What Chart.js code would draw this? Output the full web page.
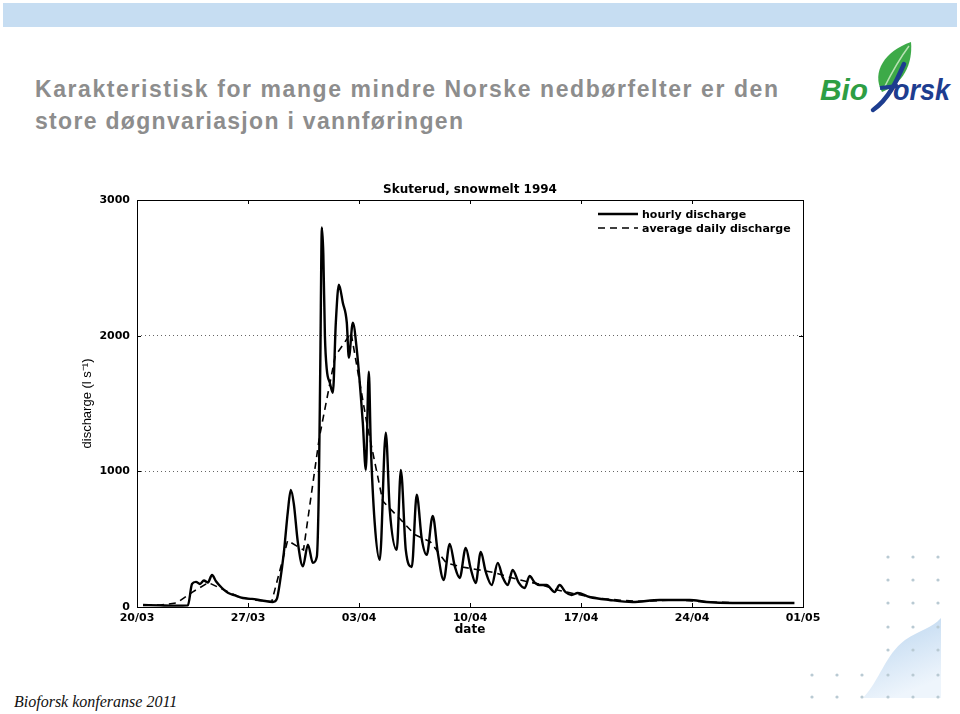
<!DOCTYPE html>
<html>
<head>
<meta charset="utf-8">
<script src="https://cdn.jsdelivr.net/npm/chart.js@4.4.1/dist/chart.umd.min.js"></script>
<style>
html, body { margin: 0; padding: 0; background: #fff; }
body { width: 960px; height: 714px; position: relative; overflow: hidden; }
#band { position: absolute; left: 3px; top: 3px; width: 954px; height: 24px; background: #c6ddf2; }
svg.layer { position: absolute; left: 0; top: 0; }
#chart-box { position: absolute; left: 50px; top: 170px; width: 780px; height: 480px; }
#foot { position: absolute; left: 14px; top: 693px; font: italic 16px "Liberation Serif", serif; color: #111; }
</style>
</head>
<body>
<div id="band"></div>

<svg class="layer" width="960" height="140">
  <text x="35" y="97" textLength="743" lengthAdjust="spacing" font-family="Liberation Sans, Arial, sans-serif" font-weight="bold" font-size="23" fill="#8d8d8d">Karakteristisk for mange mindre Norske nedbørfelter er den</text>
  <text x="35" y="129" textLength="428" lengthAdjust="spacing" font-family="Liberation Sans, Arial, sans-serif" font-weight="bold" font-size="23" fill="#8d8d8d">store døgnvariasjon i vannføringen</text>
  <!-- logo -->
  <path d="M882 92 C871 72 885 51 911 42 C913 64 903 84 882 92 Z" fill="#3daa48"/>
  <path d="M884 88 C892 72 900 58 909 46" stroke="#b9e2b4" stroke-width="1.5" fill="none"/>
  <path d="M904 64 C897 80 889 99 873 110" stroke="#1d3d8f" stroke-width="4.5" fill="none" stroke-linecap="round"/>
  <path d="M880 88 L898 86" stroke="#1d3d8f" stroke-width="4"/>
  <text x="820" y="100" textLength="48" lengthAdjust="spacingAndGlyphs" font-family="Liberation Sans, Arial, sans-serif" font-weight="bold" font-style="italic" font-size="30" fill="#2e9e44">Bio</text>
  <text x="893" y="100" textLength="57" lengthAdjust="spacingAndGlyphs" font-family="Liberation Sans, Arial, sans-serif" font-weight="bold" font-style="italic" font-size="30" fill="#1d3d8f">orsk</text>
</svg>

<svg class="layer" width="960" height="714">
  <defs>
    <linearGradient id="wave" x1="0" y1="0" x2="0.4" y2="1">
      <stop offset="0" stop-color="#b7d3ee"/>
      <stop offset="1" stop-color="#eef5fc"/>
    </linearGradient>
  </defs>
  <path d="M863 698 C880 680 885 655 905 640 C920 630 932 628 941 618 L941 698 Z" fill="url(#wave)"/>
  <g fill="#b9cad3">
    <circle cx="888" cy="557" r="1.6"/><circle cx="913" cy="557" r="1.6"/><circle cx="938" cy="557" r="1.6"/>
    <circle cx="888" cy="580" r="1.6"/><circle cx="913" cy="580" r="1.6"/><circle cx="938" cy="580" r="1.6"/>
    <circle cx="888" cy="603" r="1.6"/><circle cx="913" cy="603" r="1.6"/><circle cx="938" cy="603" r="1.6"/>
    <circle cx="888" cy="627" r="1.6"/><circle cx="913" cy="627" r="1.6"/><circle cx="938" cy="627" r="1.6"/>
    <circle cx="888" cy="650" r="1.6"/><circle cx="913" cy="650" r="1.6"/><circle cx="938" cy="650" r="1.6"/>
    <circle cx="812" cy="675" r="1.6"/><circle cx="837" cy="675" r="1.6"/><circle cx="862" cy="675" r="1.6"/>
    <circle cx="888" cy="675" r="1.6"/><circle cx="913" cy="675" r="1.6"/><circle cx="938" cy="675" r="1.6"/>
    <circle cx="812" cy="697" r="1.6"/><circle cx="837" cy="697" r="1.6"/><circle cx="862" cy="697" r="1.6"/>
    <circle cx="888" cy="697" r="1.6"/><circle cx="913" cy="697" r="1.6"/><circle cx="938" cy="697" r="1.6"/>
  </g>
</svg>

<div id="chart-box"><canvas id="chart"></canvas></div>
<div id="foot">Bioforsk konferanse 2011</div>

<script>
// tick labels
const xTickLabels = ['20/03', '27/03', '03/04', '10/04', '17/04', '24/04', '01/05'];
const yTickValues = [0, 1000, 2000, 3000];

// hourly discharge, days after 20/03 00:00 (l/s)
const hourlyDays = [0.38, 1.45, 2.39, 3.21, 3.47, 3.72, 3.97, 4.22, 4.47, 4.73, 4.98, 5.36, 5.73, 6.18, 6.68, 7.25, 7.88, 8.57,
    8.82, 9.01, 9.26, 9.51, 9.70, 9.89, 10.14, 10.46, 10.78, 11.09, 11.34, 11.47, 11.56, 11.66, 11.75, 11.85, 11.97,
    12.16, 12.35, 12.54, 12.73, 12.98, 13.23, 13.36, 13.61, 13.86, 14.24, 14.43, 14.62, 14.74, 14.99, 15.31, 15.69,
    15.94, 16.38, 16.64, 16.95, 17.33, 17.64, 17.96, 18.27, 18.65, 18.97, 19.34, 19.72, 20.04, 20.35, 20.73, 21.05,
    21.36, 21.68, 21.99, 22.37, 22.75, 23.06, 23.38, 23.69, 24.07, 24.45, 24.76, 25.08, 25.39, 25.83, 26.34, 26.65,
    27.03, 27.41, 27.79, 28.54, 29.80, 31.25, 32.96, 34.85, 35.92, 37.56, 39.70, 41.46];
const hourlyFlow = [15, 12, 10, 12, 170, 185, 170, 195, 180, 236, 190, 140, 105, 85, 66, 60, 48, 37,
    60, 180, 400, 700, 863, 760, 480, 300, 460, 325, 370, 900, 1800, 2797, 2600, 2000, 1749,
    1653, 1579, 2100, 2376, 2243, 2096, 1838, 2096, 1897, 1358, 1011, 1734, 1210, 620, 347, 1284,
    716, 421, 1011, 421, 295, 827, 500, 384, 672, 400, 199, 465, 300, 214, 435, 280,
    177, 406, 260, 162, 325, 220, 162, 273, 180, 140, 229, 180, 162, 162, 111, 162,
    110, 89, 103, 74, 52, 37, 52, 52, 37, 30, 30, 30];

// average daily discharge, plotted at noon of each day
const dailyDays = [0.5, 1.5, 2.5, 3.5, 4.5, 5.5, 6.5, 7.5, 8.5, 9.5, 10.5, 11.5, 12.5, 13.5, 14.5, 15.5, 16.5, 17.5,
    18.5, 19.5, 20.5, 21.5, 22.5, 23.5, 24.5, 25.5, 26.5, 27.5, 28.5, 29.5, 30.5, 31.5, 32.5, 33.5, 34.5, 35.5,
    36.5, 37.5, 38.5, 39.5, 40.5];
const dailyFlow = [15, 15, 30, 110, 180, 125, 70, 50, 40, 490, 420, 1250, 1850, 2020, 1350, 780, 660, 535,
    480, 325, 295, 275, 255, 220, 190, 165, 125, 100, 75, 60, 50, 42, 45, 50, 50, 40,
    35, 32, 30, 30, 28];

const tickFont = { family: 'DejaVu Sans', weight: 'bold', size: 11 };

// frame, inward tick marks and legend inside the plot
const frame = {
    id: 'frame',
    afterDatasetsDraw(chart) {
        const { ctx, chartArea: a, scales } = chart;
        ctx.save();
        ctx.strokeStyle = '#000';
        ctx.lineWidth = 1;
        ctx.setLineDash([]);
        ctx.strokeRect(Math.round(a.left) + 0.5, Math.round(a.top) + 0.5,
            Math.round(a.right - a.left), Math.round(a.bottom - a.top));

        ctx.beginPath();
        scales.y.ticks.forEach(function(t) {
            let py = Math.round(scales.y.getPixelForValue(t.value)) + 0.5;
            ctx.moveTo(a.left, py); ctx.lineTo(a.left + 4, py);
            ctx.moveTo(a.right - 4, py); ctx.lineTo(a.right, py);
        });
        scales.x.ticks.forEach(function(t) {
            let px = Math.round(scales.x.getPixelForValue(t.value)) + 0.5;
            ctx.moveTo(px, a.bottom); ctx.lineTo(px, a.bottom - 4);
            ctx.moveTo(px, a.top); ctx.lineTo(px, a.top + 4);
        });
        ctx.stroke();

        ctx.font = 'bold 11px "DejaVu Sans"';
        ctx.fillStyle = '#000';
        ctx.textBaseline = 'middle';
        chart.data.datasets.forEach(function(ds, i) {
            let ly = a.top + 14 + i * 14;
            ctx.beginPath();
            ctx.setLineDash(ds.borderDash || []);
            ctx.lineWidth = ds.borderWidth;
            ctx.moveTo(a.right - 205, ly);
            ctx.lineTo(a.right - 165, ly);
            ctx.stroke();
            ctx.fillText(ds.label, a.right - 161, ly + 1);
        });
        ctx.restore();
    }
};

new Chart(document.getElementById('chart'), {
    type: 'line',
    data: {
        datasets: [{
            label: 'hourly discharge',
            data: hourlyDays.map((d, i) => ({ x: d, y: hourlyFlow[i] })),
            borderColor: '#000',
            borderWidth: 2.4,
            pointRadius: 0,
            cubicInterpolationMode: 'monotone'
        }, {
            label: 'average daily discharge',
            data: dailyDays.map((d, i) => ({ x: d, y: dailyFlow[i] })),
            borderColor: '#000',
            borderWidth: 1.6,
            borderDash: [7, 5],
            pointRadius: 0,
            tension: 0
        }]
    },
    options: {
        responsive: true,
        maintainAspectRatio: false,
        animation: false,
        layout: { padding: { left: 0, right: 27, top: 0, bottom: 0 } },
        plugins: {
            legend: { display: false },
            tooltip: { enabled: false },
            title: {
                display: true,
                text: 'Skuterud, snowmelt 1994',
                fullSize: false,
                color: '#000',
                font: { family: 'DejaVu Sans', weight: 'bold', size: 12 },
                padding: { top: 13, bottom: 2.6 }
            }
        },
        scales: {
            x: {
                type: 'linear',
                min: 0,
                max: 42,
                afterFit: function(scale) { scale.height = 43; },
                ticks: {
                    stepSize: 7,
                    padding: -3,
                    color: '#000',
                    font: tickFont,
                    maxRotation: 0,
                    callback: v => xTickLabels[v / 7] || ''
                },
                grid: { display: false },
                border: { display: false },
                title: {
                    display: true,
                    text: 'date',
                    color: '#000',
                    font: { family: 'DejaVu Sans', weight: 'bold', size: 12 },
                    padding: { top: 14, bottom: 13 }
                }
            },
            y: {
                min: 0,
                max: 3000,
                afterFit: function(scale) { scale.width = 87; },
                ticks: {
                    stepSize: 1000,
                    padding: 7,
                    color: '#000',
                    font: tickFont,
                    callback: v => yTickValues.includes(v) ? String(v) : ''
                },
                grid: { color: '#666', drawTicks: false },
                border: { display: false, dash: [1, 3] },
                title: {
                    display: true,
                    text: 'discharge (l s⁻¹)',
                    color: '#000',
                    font: { family: '"Liberation Sans", sans-serif', weight: 'normal', size: 13 },
                    padding: { top: 30, bottom: 0 }
                }
            }
        }
    },
    plugins: [frame]
});
</script>
</body>
</html>
